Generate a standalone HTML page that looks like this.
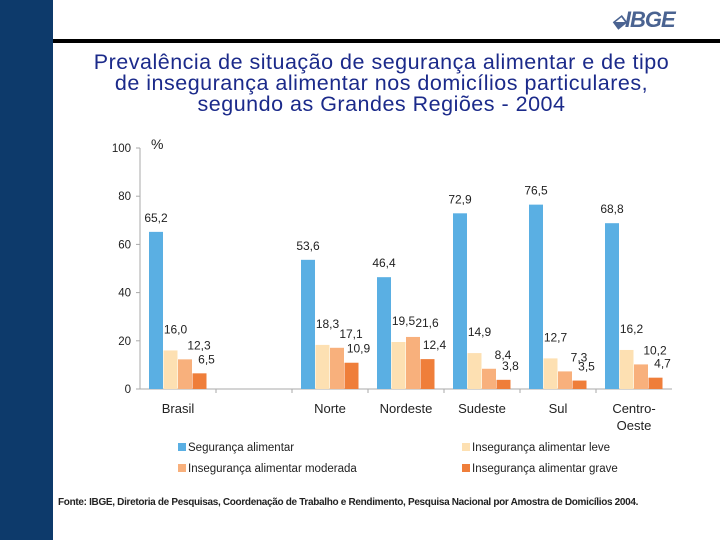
<!DOCTYPE html>
<html><head><meta charset="utf-8"><style>
body{margin:0;width:720px;height:540px;background:#fff;position:relative;overflow:hidden;font-family:"Liberation Sans",sans-serif}
.side{position:absolute;left:0;top:0;width:53px;height:540px;background:#0d3a6b}
.rule{position:absolute;left:53px;top:39px;width:667px;height:4px;background:#000}
.logo{position:absolute;left:612px;top:7px;font:italic bold 22px "Liberation Sans",sans-serif;color:#4a6391;letter-spacing:-1px}
.title{position:absolute;left:43px;width:677px;top:52px;text-align:center;color:#1b2a8a;font-size:21.5px;line-height:21px;letter-spacing:0.5px}
.foot{position:absolute;left:58px;top:497px;font-size:10px;font-weight:bold;color:#222;letter-spacing:-0.32px}
</style></head><body>
<div class="side"></div>
<div class="rule"></div>
<div class="logo"><span style="font-size:18px">⬙</span>IBGE</div>
<div class="title">Prevalência de situação de segurança alimentar e de tipo<br>de insegurança alimentar nos domicílios particulares,<br>segundo as Grandes Regiões - 2004</div>
<svg id="chart" width="720" height="540" style="position:absolute;left:0;top:0"></svg>
<div class="foot">Fonte: IBGE, Diretoria de Pesquisas, Coordenação de Trabalho e Rendimento, Pesquisa Nacional por Amostra de Domicílios 2004.</div>
<script>
const categories=["Brasil","","Norte","Nordeste","Sudeste","Sul","Centro-Oeste"];
const seguranca=[65.2,null,53.6,46.4,72.9,76.5,68.8];
const leve=[16.0,null,18.3,19.5,14.9,12.7,16.2];
const moderada=[12.3,null,17.1,21.6,8.4,7.3,10.2];
const grave=[6.5,null,10.9,12.4,3.8,3.5,4.7];
const yTicks=[0,20,40,60,80,100];
const seriesNames=["Segurança alimentar","Insegurança alimentar leve","Insegurança alimentar moderada","Insegurança alimentar grave"];
const colors=["#5aafe3","#fde0b2","#f8b07c","#ef7e3a"];
const series=[seguranca,leve,moderada,grave];
const labelDx=[0,5,14,7],labelDy=[10,17,10,10];
const svg=document.getElementById('chart');const NS="http://www.w3.org/2000/svg";
const x0=140,slot=76,y0=389,yTop=148;
const y=v=>y0-(v/100)*(y0-yTop);
function mk(t,a,txt){const e=document.createElementNS(NS,t);for(const k in a)e.setAttribute(k,a[k]);if(txt!=null)e.textContent=txt;svg.appendChild(e);return e;}
let e=mk('line',{x1:x0,y1:yTop,x2:x0,y2:y0,stroke:'#aaa'});

e=mk('line',{x1:x0,y1:y0,x2:x0+slot*categories.length,y2:y0,stroke:'#aaa'});

yTicks.forEach(t=>{mk('line',{x1:x0-4,y1:y(t),x2:x0,y2:y(t),stroke:'#aaa'});
e=mk('text',{x:x0-9,y:y(t)+4,'text-anchor':'end','font-size':11.5,fill:'#222'},t);
});
e=mk('text',{x:151,y:149,'font-size':14,fill:'#222'},'%');

categories.forEach((c,i)=>{const sx=x0+slot*i;
if(i>0)mk('line',{x1:sx,y1:y0,x2:sx,y2:y0+4,stroke:'#aaa'});
if(c){const lines=c==="Centro-Oeste"?["Centro-","Oeste"]:[c];
lines.forEach((l,j)=>{e=mk('text',{x:sx+slot/2,y:413+j*17,'text-anchor':'middle','font-size':13,fill:'#222'},l);
});}
series.forEach((s,k)=>{const v=s[i];if(v==null)return;const bx=sx+9+k*14.5;
e=mk('rect',{x:bx,y:y(v),width:14,height:y0-y(v),fill:colors[k]});

e=mk('text',{x:bx+7+labelDx[k],y:y(v)-labelDy[k],'text-anchor':'middle','font-size':12,fill:'#222'},v.toFixed(1).replace('.',','));
});});
seriesNames.forEach((n,k)=>{const lx=k%2?462:178,ly=k<2?447:468;
e=mk('rect',{x:lx,y:ly-4,width:8,height:8,fill:colors[k]});

e=mk('text',{x:lx+10,y:ly+4,'font-size':11.5,fill:'#222'},n);
});
</script>
</body></html>
